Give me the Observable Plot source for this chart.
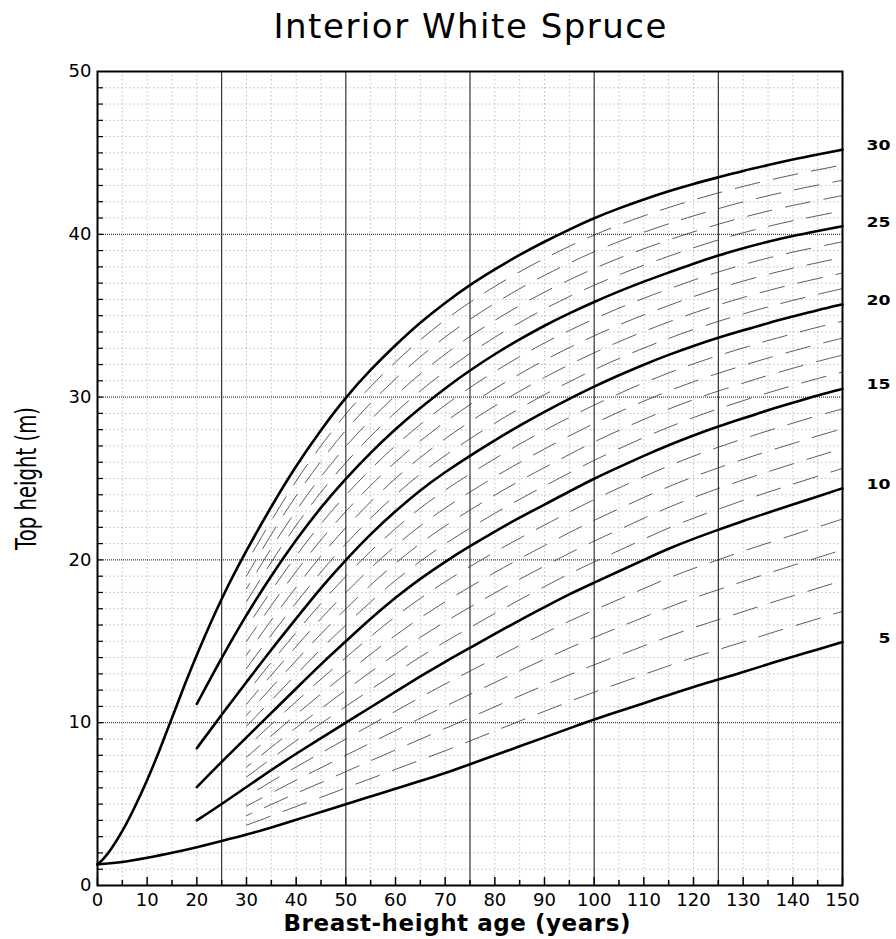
<!DOCTYPE html>
<html><head><meta charset="utf-8">
<script src="https://cdn.jsdelivr.net/npm/d3@7"></script>
<script src="https://cdn.jsdelivr.net/npm/@observablehq/plot@0.6"></script>
<style>html,body{margin:0;padding:0;background:#fff;} #chart svg{display:block;}</style>
</head><body><div id="chart"></div>
<script>
// ---- data ----
const titleText = "Interior White Spruce";
const xTitle = "Breast-height age (years)";
const yTitle = "Top height (m)";

const siteIndices = [30, 25, 20, 15, 10, 5];
const siteLabels = ["30", "25", "20", "15", "10", "5"];

const agesSI30 = [0, 1, 2.5, 5, 7.5, 10, 12.5, 15, 17.5, 20, 25, 30, 35, 40, 45, 50, 55, 60, 65, 70, 75, 80, 85, 90, 95, 100, 105, 110, 115, 120, 125, 130, 135, 140, 145, 150];
const heightsSI30 = [1.3, 1.55, 2.1, 3.3, 4.8, 6.45, 8.3, 10.3, 12.3, 14.2, 17.7, 20.6, 23.3, 25.8, 28.0, 30.0, 31.7, 33.2, 34.6, 35.8, 36.9, 37.85, 38.75, 39.55, 40.3, 41.0, 41.6, 42.15, 42.65, 43.1, 43.5, 43.9, 44.25, 44.6, 44.9, 45.2];

const agesFrom20 = [20, 25, 30, 35, 40, 45, 50, 55, 60, 65, 70, 75, 80, 85, 90, 95, 100, 105, 110, 115, 120, 125, 130, 135, 140, 145, 150];
const heightsSI25 = [11.15, 14.0, 16.65, 19.05, 21.25, 23.25, 25.0, 26.6, 28.05, 29.35, 30.55, 31.65, 32.65, 33.55, 34.4, 35.15, 35.85, 36.5, 37.1, 37.65, 38.2, 38.7, 39.15, 39.55, 39.9, 40.2, 40.5];
const heightsSI20 = [8.43, 10.5, 12.5, 14.5, 16.4, 18.3, 20.0, 21.6, 23.0, 24.3, 25.4, 26.4, 27.35, 28.25, 29.1, 29.9, 30.65, 31.35, 32.0, 32.6, 33.15, 33.65, 34.1, 34.55, 34.95, 35.35, 35.7];
const heightsSI15 = [6.04, 7.6, 9.1, 10.6, 12.1, 13.6, 15.0, 16.4, 17.7, 18.85, 19.9, 20.85, 21.75, 22.6, 23.4, 24.2, 25.0, 25.7, 26.4, 27.05, 27.65, 28.2, 28.7, 29.2, 29.65, 30.1, 30.5];
const heightsSI10 = [4.0, 5.0, 6.05, 7.1, 8.1, 9.05, 10.0, 10.95, 11.9, 12.85, 13.75, 14.6, 15.45, 16.3, 17.1, 17.9, 18.6, 19.3, 20.0, 20.7, 21.3, 21.85, 22.4, 22.9, 23.4, 23.9, 24.4];

const agesFrom0 = [0, 5, 10, 15, 20, 25, 30, 35, 40, 45, 50, 55, 60, 65, 70, 75, 80, 85, 90, 95, 100, 105, 110, 115, 120, 125, 130, 135, 140, 145, 150];
const heightsSI5 = [1.3, 1.42, 1.7, 2.0, 2.35, 2.73, 3.12, 3.56, 4.05, 4.5, 5.0, 5.47, 5.94, 6.42, 6.9, 7.45, 8.0, 8.55, 9.1, 9.65, 10.2, 10.7, 11.2, 11.7, 12.2, 12.65, 13.1, 13.6, 14.05, 14.5, 14.95];

// intermediate (dashed) site-index curves drawn between the solid ones, from age 30
const dashedSiteIndices = [6, 7, 8, 9, 11, 12, 13, 14, 16, 17, 18, 19, 21, 22, 23, 24, 26, 27, 28, 29];
const dashedStartAge = 30;

// axis ticks
const xLabelTicks = [0, 10, 20, 30, 40, 50, 60, 70, 80, 90, 100, 110, 120, 130, 140, 150];
const xMinorTicks = [5, 15, 25, 35, 45, 55, 65, 75, 85, 95, 105, 115, 125, 135, 145];
const xMajorGrid = [25, 50, 75, 100, 125];
const yLabelTicks = [0, 10, 20, 30, 40, 50];
const yMajorGrid = [10, 20, 30, 40];

// ---- build tables ----
const curveSpecs = [
  {si: 30, ages: agesSI30, heights: heightsSI30},
  {si: 25, ages: agesFrom20, heights: heightsSI25},
  {si: 20, ages: agesFrom20, heights: heightsSI20},
  {si: 15, ages: agesFrom20, heights: heightsSI15},
  {si: 10, ages: agesFrom20, heights: heightsSI10},
  {si: 5, ages: agesFrom0, heights: heightsSI5}
];
const solidRows = curveSpecs.flatMap(c => c.ages.map((a, i) => ({si: c.si, age: a, h: c.heights[i]})));
const lookup = new Map(curveSpecs.map(c => [c.si, new Map(c.ages.map((a, i) => [a, c.heights[i]]))]));
const labelRows = curveSpecs.map(c => ({
  age: c.ages[c.ages.length - 1], h: c.heights[c.heights.length - 1],
  label: siteLabels[siteIndices.indexOf(c.si)]
}));
const dashedAges = agesFrom20.filter(a => a >= dashedStartAge);
const dashedRows = dashedSiteIndices.flatMap(si => {
  const lo = Math.floor(si / 5) * 5, hi = lo + 5, f = (si - lo) / 5, k = si - lo;
  return dashedAges.map(a => ({si, k, age: a, h: lookup.get(lo).get(a) + (lookup.get(hi).get(a) - lookup.get(lo).get(a)) * f}));
});

const yMinorGrid = d3.range(1, 50).filter(v => v % 10 !== 0);
const yAllTicks = d3.range(1, 50);
const xMinorGrid = d3.range(5, 150, 5).filter(v => v % 25 !== 0);
const dashOffsets = [0, 0, 19, 7, 26];

const dashedMarks = [1, 2, 3, 4].map(k => Plot.line(dashedRows.filter(d => d.k === k), {
  x: "age", y: "h", z: "si", stroke: "#333", strokeWidth: 0.8,
  strokeDasharray: "25,14", strokeDashoffset: dashOffsets[k], curve: "basis"
}));

const FONT = "DejaVu Sans, sans-serif";
const chart = Plot.plot({
  width: 896, height: 939,
  marginLeft: 97, marginRight: 54, marginTop: 71, marginBottom: 54,
  style: {fontFamily: FONT, fontSize: "18px", color: "black", background: "white"},
  x: {domain: [0, 150], ticks: xLabelTicks, tickSize: 0, tickPadding: 8, label: null},
  y: {domain: [0, 50], ticks: yLabelTicks, tickSize: 0, tickPadding: 6, label: null},
  marks: [
    Plot.ruleY(yMinorGrid, {stroke: "#b0b0b0", strokeWidth: 0.8, strokeDasharray: "1.5,2.5"}),
    Plot.ruleX(xMinorGrid, {stroke: "#b0b0b0", strokeWidth: 0.8, strokeDasharray: "1.5,2.5"}),
    Plot.ruleY(yMajorGrid, {stroke: "#111", strokeWidth: 1, strokeDasharray: "1,1"}),
    Plot.ruleX(xMajorGrid, {stroke: "#222", strokeWidth: 1.1}),
    ...dashedMarks,
    Plot.line(solidRows, {x: "age", y: "h", z: "si", stroke: "black", strokeWidth: 2.6, curve: "basis"}),
    Plot.ruleX(xLabelTicks, {x: d => d, y1: 0, y2: 0, insetBottom: 8, stroke: "black", strokeWidth: 1.5}),
    Plot.ruleX(xMinorTicks, {x: d => d, y1: 0, y2: 0, insetBottom: 5, stroke: "black", strokeWidth: 1.5}),
    Plot.ruleY(yAllTicks, {y: d => d, x1: 0, x2: 0, insetLeft: 6, stroke: "black", strokeWidth: 1.2}),
    Plot.frame({stroke: "black", strokeWidth: 2}),
    Plot.text(labelRows, {x: "age", y: "h", text: "label", textAnchor: "end", lineAnchor: "middle", dx: 48, dy: -4,
      fontSize: 14, fontWeight: "bold", fontFamily: FONT}),
    Plot.text([titleText], {frameAnchor: "top", textAnchor: "middle", lineAnchor: "middle", dy: -44,
      fontSize: 34, fontFamily: FONT}),
    Plot.text([xTitle], {frameAnchor: "bottom", textAnchor: "middle", lineAnchor: "middle", dy: 38, dx: -13,
      fontSize: 23, fontWeight: "bold", fontFamily: FONT}),
    Plot.text([yTitle], {frameAnchor: "left", textAnchor: "middle", lineAnchor: "middle", dx: -70, rotate: -90,
      fontSize: 28, fontFamily: FONT})
  ]
});
document.getElementById("chart").appendChild(chart);

// fit text widths to the reference proportions
const svg = d3.select(chart);
const markTexts = svg.selectAll('g[aria-label="text"] text');
const byContent = s => markTexts.filter(function () { return this.textContent === s; });
byContent(titleText).attr("textLength", 393).attr("lengthAdjust", "spacing");
byContent(xTitle).attr("textLength", 347).attr("lengthAdjust", "spacing");
byContent(yTitle).attr("textLength", 143).attr("lengthAdjust", "spacingAndGlyphs");
markTexts.filter(function () { return siteLabels.includes(this.textContent); })
  .attr("textLength", function () { return 12 * this.textContent.length; })
  .attr("lengthAdjust", "spacingAndGlyphs");
</script>
</body></html>
